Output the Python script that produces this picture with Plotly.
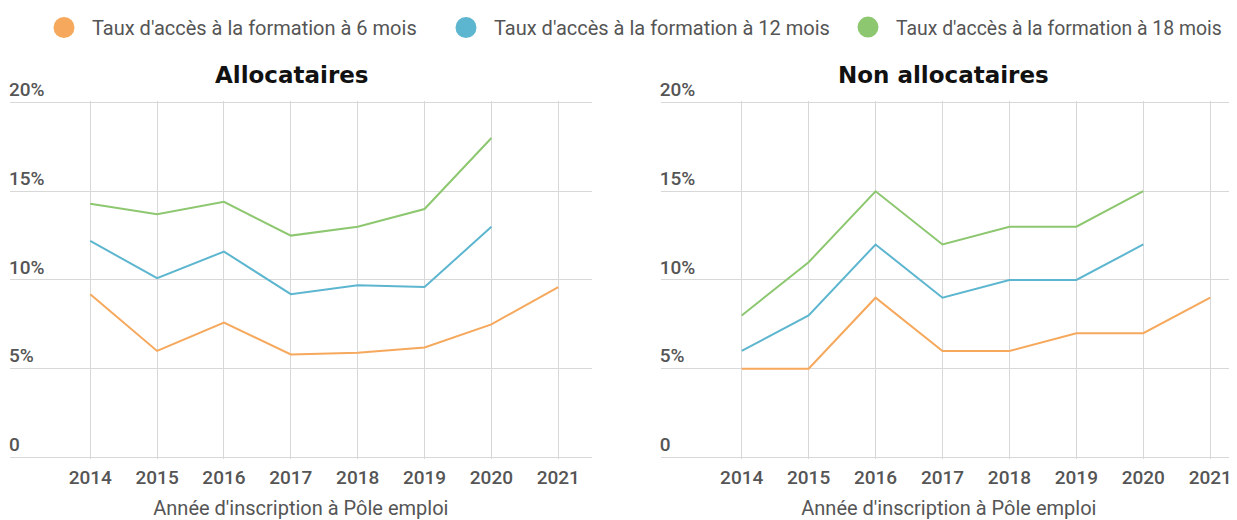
import plotly.graph_objects as go

# the page adds an 8px body margin, so the figure is sized to fill the rest of the window
W, H = 1229, 512
OFF = 8  # reference pixel coordinates -> figure coordinates

years = [2014, 2015, 2016, 2017, 2018, 2019, 2020, 2021]
series_names = [
    "Taux d'accès à la formation à 6 mois",
    "Taux d'accès à la formation à 12 mois",
    "Taux d'accès à la formation à 18 mois",
]
colors = ["#F6A85C", "#5DB6CF", "#8DC770"]

# Allocataires (%)
alloc_6 = [9.2, 6.0, 7.6, 5.8, 5.9, 6.2, 7.5, 9.6]
alloc_12 = [12.2, 10.1, 11.6, 9.2, 9.7, 9.6, 13.0, None]
alloc_18 = [14.3, 13.7, 14.4, 12.5, 13.0, 14.0, 18.0, None]

# Non allocataires (%)
non_6 = [5, 5, 9, 6, 6, 7, 7, 9]
non_12 = [6, 8, 12, 9, 10, 10, 12, None]
non_18 = [8, 11, 15, 12, 13, 13, 15, None]

subplot_titles = ["Allocataires", "Non allocataires"]
x_title = "Année d'inscription à Pôle emploi"
y_tickvals = [0, 5, 10, 15, 20]
y_ticktext = ["0", "5%", "10%", "15%", "20%"]

def px(v):
    return (v - OFF) / W

def py(v):
    return 1 - (v - OFF) / H

fig = go.Figure()

panels = [
    ("x", "y", [alloc_6, alloc_12, alloc_18]),
    ("x2", "y2", [non_6, non_12, non_18]),
]
for xa, ya, data in panels:
    for name, col, vals in zip(series_names, colors, data):
        fig.add_trace(go.Scatter(
            x=years, y=vals, mode="lines", name=name,
            line=dict(color=col, width=2), xaxis=xa, yaxis=ya,
            showlegend=False, connectgaps=False, hoverinfo="skip",
        ))

# legend entries (circle markers), one legend per series
legend_ids = ["legend", "legend2", "legend3"]
for name, col, lid in zip(series_names, colors, legend_ids):
    fig.add_trace(go.Scatter(
        x=[None], y=[None], mode="markers", name=name,
        marker=dict(color=col, size=16, symbol="circle",
                    line=dict(color=col, width=5)),
        showlegend=True, legend=lid, xaxis="x", yaxis="y",
    ))

grid = "#d8d8d8"
tick_font = dict(family="Roboto", size=19, color="#555555", weight=500)

def xaxis(domain, rng, anchor):
    return dict(
        domain=domain, range=rng, anchor=anchor,
        tickmode="array", tickvals=years, ticktext=[str(y) for y in years],
        showgrid=True, gridcolor=grid, gridwidth=1.2,
        zeroline=False, showline=False, ticks="",
        tickfont=tick_font, ticklabelstandoff=5,
        title=dict(text=x_title, font=dict(family="Roboto", size=20, color="#555555"),
                   standoff=17),
        fixedrange=True, automargin=False,
    )

pad = 2 / 17.78
def yaxis(domain, anchor):
    return dict(
        domain=domain, range=[-pad, 20 + pad], anchor=anchor,
        tickmode="array", tickvals=y_tickvals, ticktext=y_ticktext,
        showgrid=True, gridcolor=grid, gridwidth=1.2,
        zeroline=False, showline=False, ticks="",
        ticklabelposition="inside", ticklabelshift=-13, ticklabelstandoff=-4,
        ticklabeloverflow="allow",
        tickfont=tick_font, fixedrange=True, automargin=False,
    )

ydom = [py(459.3), py(99.7)]
legend_common = dict(
    orientation="h", xanchor="left", y=py(27), yanchor="middle",
    font=dict(family="Roboto", size=20, color="#555555"),
    itemwidth=46, itemclick=False, itemdoubleclick=False,
    bgcolor="rgba(0,0,0,0)",
)
title_font = dict(family="DejaVu Sans", size=23, color="#111111", weight="bold")

fig.update_layout(
    width=W, height=H,
    margin=dict(l=0, r=0, t=0, b=0),
    paper_bgcolor="white", plot_bgcolor="white",
    xaxis=xaxis([px(10), px(591.7)], [2012.8, 2021.5], "y"),
    yaxis=yaxis(ydom, "x"),
    xaxis2=xaxis([px(660.7), 1.0], [2012.79, 2021.4], "y2"),
    yaxis2=yaxis(ydom, "x2"),
    showlegend=True,
    legend=dict(legend_common, x=px(36)),
    legend2=dict(legend_common, x=px(438)),
    legend3=dict(legend_common, x=px(840),
                 font=dict(family="Roboto", size=19.4, color="#555555")),
    annotations=[
        dict(text=subplot_titles[0], x=px(292), y=py(74), xref="paper", yref="paper",
             xanchor="center", yanchor="middle", showarrow=False, font=title_font),
        dict(text=subplot_titles[1], x=px(943), y=py(74), xref="paper", yref="paper",
             xanchor="center", yanchor="middle", showarrow=False, font=title_font),
    ],
)

fig.write_html("out.html")
